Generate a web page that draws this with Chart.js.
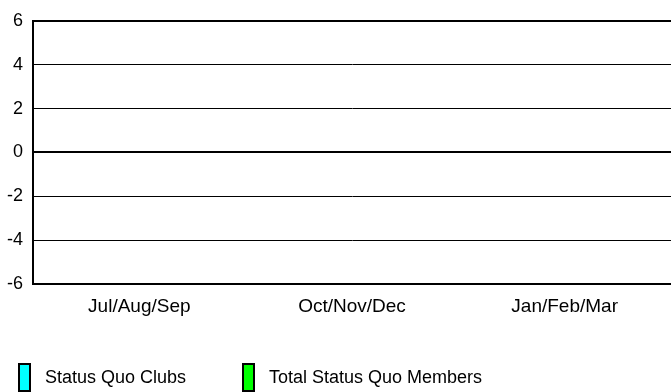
<!DOCTYPE html>
<html>
<head>
<meta charset="utf-8">
<script src="https://cdn.jsdelivr.net/npm/chart.js@4/dist/chart.umd.min.js"></script>
<style>
  html, body { margin: 0; padding: 0; background: #fff; }
  #wrap { width: 671px; height: 392px; position: relative; }
</style>
</head>
<body>
<div id="wrap"><canvas id="chart"></canvas></div>
<script>
const quarters = ['Jul/Aug/Sep', 'Oct/Nov/Dec', 'Jan/Feb/Mar'];
const clubs = [0, 0, 0];
const members = [0, 0, 0];
const seriesNames = ['Status Quo Clubs', 'Total Status Quo Members'];
const seriesColors = ['#00ffff', '#00ff00'];

const FONT = '"Liberation Sans", Arial, sans-serif';

// bottom legend drawn by hand, boxes are tall and narrow like the original
const bottomLegend = {
    id: 'bottomLegend',
    afterDraw(chart) {
        const ctx = chart.ctx;
        const xs = [19, 243];
        ctx.save();
        ctx.font = '18px ' + FONT;
        ctx.textBaseline = 'middle';
        chart.data.datasets.forEach((ds, i) => {
            const x = xs[i];
            ctx.fillStyle = ds.backgroundColor;
            ctx.fillRect(x, 364, 11, 27);
            ctx.strokeStyle = '#000';
            ctx.lineWidth = 2;
            ctx.strokeRect(x, 364, 11, 27);
            ctx.fillStyle = '#000';
            ctx.fillText(ds.label, x + 26, 378);
        });
        ctx.restore();
    }
};

new Chart(document.getElementById('chart'), {
    type: 'bar',
    data: {
        labels: quarters,
        datasets: [
            { label: seriesNames[0], data: clubs, backgroundColor: seriesColors[0], borderColor: '#000', borderWidth: 1 },
            { label: seriesNames[1], data: members, backgroundColor: seriesColors[1], borderColor: '#000', borderWidth: 1 }
        ]
    },
    options: {
        responsive: true,
        maintainAspectRatio: false,
        animation: false,
        layout: { padding: { top: 18, right: 0, bottom: 64, left: 0 } },
        plugins: { legend: { display: false }, tooltip: { enabled: false } },
        scales: {
            x: {
                grid: { display: false },
                border: { display: false },
                ticks: { color: '#000', font: { family: FONT, size: 19 }, padding: 3 },
                afterFit(scale) { scale.height = 44; }
            },
            y: {
                min: -6,
                max: 6,
                ticks: { stepSize: 2, color: '#000', font: { family: FONT, size: 18 }, padding: 10 },
                grid: {
                    color: '#000',
                    drawTicks: false,
                    lineWidth: c => (c.tick && [6, 0, -6].includes(c.tick.value)) ? 2 : 1
                },
                border: { display: true, color: '#000', width: 2 },
                afterFit(scale) { scale.width = 33; }
            }
        }
    },
    plugins: [bottomLegend]
});
</script>
</body>
</html>
